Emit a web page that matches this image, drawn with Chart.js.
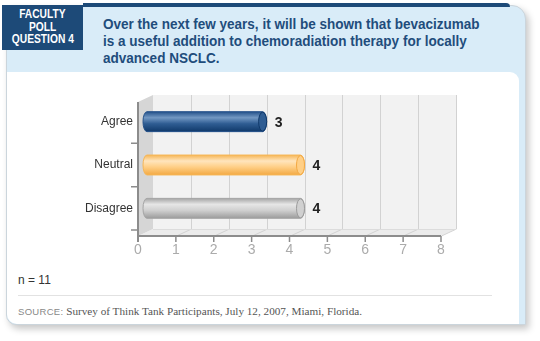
<!DOCTYPE html>
<html>
<head>
<meta charset="utf-8">
<script src="https://cdn.jsdelivr.net/npm/chart.js@4.4.0/dist/chart.umd.min.js"></script>
<style>
  body { margin: 0; background: #fff; width: 540px; height: 341px; overflow: hidden; position: relative; font-family: "Liberation Sans", Arial, sans-serif; }
  .card { position: absolute; left: 6px; top: 5px; width: 518px; height: 318px; background: #d9ecf8; border: 1px solid #cbd5dc; border-radius: 0 14px 0 10px; box-shadow: 3px 4px 7px rgba(0,0,0,0.22); }
  .panel { position: absolute; left: 0; top: 66px; width: 512px; bottom: 0; background: #fff; border-radius: 0 9px 0 10px; }
  .stripe { position: absolute; left: 83px; top: 3px; width: 427px; height: 4px; background: #1d4a78; border-radius: 0 5px 0 0; }
  .tag { position: absolute; left: 2px; top: 5px; width: 81px; height: 45px; background: #1d4a78; }
  .tag div { position: absolute; left: 0; width: 81px; text-align: center; color: #fff; font: bold 12.5px/12px "Liberation Sans", Arial, sans-serif; white-space: nowrap; }
  .tag span { display: inline-block; }
  .title div { position: absolute; left: 103px; color: #1f4d7c; font: bold 15.5px/17px "Liberation Sans", Arial, sans-serif; white-space: nowrap; transform-origin: 0 50%; }
  .n { position: absolute; left: 18px; top: 273px; font-size: 12px; color: #333; }
  .rule { position: absolute; left: 18px; top: 295px; width: 474px; height: 1px; background: #e2e2e2; }
  .source { position: absolute; left: 18px; top: 305px; font: 11.2px "Liberation Serif", serif; color: #555; white-space: nowrap; }
  .source b { font: 9.5px "Liberation Sans", sans-serif; color: #888; letter-spacing: 0.3px; font-weight: normal; }
  canvas { position: absolute; left: 0; top: 0; }
</style>
</head>
<body>
<div class="card"><div class="panel"></div></div>
<div class="stripe"></div>
<div class="tag">
  <div style="top:3px"><span>FACULTY</span></div>
  <div style="top:16px"><span>POLL</span></div>
  <div style="top:28px"><span>QUESTION 4</span></div>
</div>
<div class="title">
  <div style="top:15px">Over the next few years, it will be shown that bevacizumab</div>
  <div style="top:32px">is a useful addition to chemoradiation therapy for locally</div>
  <div style="top:49px">advanced NSCLC.</div>
</div>
<div class="n">n = 11</div>
<div class="rule"></div>
<div class="source"><b>SOURCE:</b> Survey of Think Tank Participants, July 12, 2007, Miami, Florida.</div>
<canvas id="poll" width="540" height="341"></canvas>

<script>
const categories = ['Agree', 'Neutral', 'Disagree'];
const responses = [3, 4, 4];
const xMin = 0;
const xMax = 8;

// cylinder shading per bar: edge, highlight, body, dark
const barShades = [
  ['#24518a', '#7398c3', '#2f5d93', '#10396a'],
  ['#f6b656', '#ffe5bd', '#ffcf86', '#f3a943'],
  ['#a5a5a5', '#e6e6e6', '#d0d0d0', '#9c9c9c']
];

// depth of the 3d box
const dx = 15;
const dy = -7;

// squeeze the header lines to the column width
const titleLines = document.querySelectorAll('.title div');
const ts = 377 / titleLines[0].scrollWidth;
titleLines.forEach(el => { el.style.transform = 'scaleX(' + ts + ')'; });
const q = document.querySelectorAll('.tag span');
const qs = 62 / q[2].getBoundingClientRect().width;
q.forEach(el => { el.style.transform = 'scaleX(' + qs + ')'; });

const box3d = {
  id: 'box3d',
  beforeDatasetsDraw(chart) {
    const { ctx, chartArea: { top, bottom } } = chart;
    const xs = chart.scales.x;
    const x0 = xs.getPixelForValue(xMin);
    const x8 = xs.getPixelForValue(xMax);
    const backTop = top - 5;
    const backBottom = bottom - 1;
    const frontBottom = backBottom - dy;
    const frontTop = backTop - dy;

    ctx.save();
    // back wall
    ctx.fillStyle = '#f2f2f2';
    ctx.fillRect(x0, backTop, x8 - x0, backBottom - backTop);

    // floor
    ctx.fillStyle = '#ebebeb';
    ctx.beginPath();
    ctx.moveTo(x0 - dx, frontBottom);
    ctx.lineTo(x8 - dx, frontBottom);
    ctx.lineTo(x8, backBottom);
    ctx.lineTo(x0, backBottom);
    ctx.closePath();
    ctx.fill();

    // left wall
    ctx.fillStyle = '#d6d6d6';
    ctx.beginPath();
    ctx.moveTo(x0 - dx, frontTop);
    ctx.lineTo(x0, backTop);
    ctx.lineTo(x0, backBottom);
    ctx.lineTo(x0 - dx, frontBottom);
    ctx.closePath();
    ctx.fill();

    // grid lines on wall and floor
    ctx.strokeStyle = '#d2d2d2';
    ctx.lineWidth = 1;
    for (let v = xMin + 1; v <= xMax; v++) {
      const gx = Math.round(xs.getPixelForValue(v)) + 0.5;
      ctx.beginPath();
      ctx.moveTo(gx, backTop);
      ctx.lineTo(gx, backBottom);
      ctx.lineTo(gx - dx, frontBottom);
      ctx.stroke();
    }
    ctx.strokeStyle = '#dcdcdc';
    ctx.beginPath();
    ctx.moveTo(x0, backBottom + 0.5);
    ctx.lineTo(x8, backBottom + 0.5);
    ctx.stroke();

    // front axes
    ctx.strokeStyle = '#8c8c8c';
    ctx.lineWidth = 2;
    ctx.beginPath();
    ctx.moveTo(x0 - dx, frontTop);
    ctx.lineTo(x0 - dx, frontBottom + 6);
    ctx.moveTo(x0 - dx - 1, frontBottom);
    ctx.lineTo(x8 - dx, frontBottom);
    ctx.stroke();

    ctx.lineWidth = 1.5;
    ctx.beginPath();
    for (let v = xMin + 1; v <= xMax; v++) {
      const tx = xs.getPixelForValue(v) - dx;
      ctx.moveTo(tx, frontBottom);
      ctx.lineTo(tx, frontBottom + 6);
    }
    const ys = chart.scales.y;
    const band = (ys.getPixelForValue(1) - ys.getPixelForValue(0));
    for (let i = 0; i < categories.length; i++) {
      const ty = ys.getPixelForValue(i) + band / 2;
      ctx.moveTo(x0 - dx, ty);
      ctx.lineTo(x0 - dx - 7, ty);
    }
    ctx.stroke();
    ctx.restore();
  }
};

const cylinders = {
  id: 'cylinders',
  afterDatasetsDraw(chart) {
    const { ctx } = chart;
    const meta = chart.getDatasetMeta(0);
    meta.data.forEach((bar, i) => {
      const [edge, hi, body, dark] = barShades[i];
      const x1 = bar.x;
      const xStart = bar.base - 10;
      const h = bar.height;
      const top = bar.y - h / 2;
      const bottom = bar.y + h / 2;
      const rx = 4;
      const ry = h / 2;

      const grad = ctx.createLinearGradient(0, top, 0, bottom);
      grad.addColorStop(0, edge);
      grad.addColorStop(0.3, hi);
      grad.addColorStop(0.6, body);
      grad.addColorStop(1, dark);

      ctx.save();
      ctx.beginPath();
      ctx.moveTo(xStart + rx, top);
      ctx.lineTo(x1 - rx, top);
      ctx.ellipse(x1 - rx, bar.y, rx, ry, 0, -Math.PI / 2, Math.PI / 2);
      ctx.lineTo(xStart + rx, bottom);
      ctx.ellipse(xStart + rx, bar.y, rx, ry, 0, Math.PI / 2, Math.PI * 1.5);
      ctx.closePath();
      ctx.fillStyle = grad;
      ctx.fill();
      ctx.strokeStyle = edge;
      ctx.lineWidth = 1;
      ctx.stroke();

      // end cap
      ctx.beginPath();
      ctx.ellipse(x1 - rx, bar.y, rx, ry - 0.5, 0, 0, Math.PI * 2);
      ctx.fillStyle = body;
      ctx.fill();
      ctx.strokeStyle = dark;
      ctx.stroke();

      // value label
      ctx.fillStyle = '#222';
      ctx.font = 'bold 14px "Liberation Sans", Arial, sans-serif';
      ctx.textAlign = 'left';
      ctx.textBaseline = 'middle';
      ctx.fillText(String(responses[i]), x1 + 8, bar.y + 1);
      ctx.restore();
    });
  }
};

const config = {
  type: 'bar',
  data: {
    labels: categories,
    datasets: [{
      data: responses,
      backgroundColor: 'rgba(0,0,0,0)',
      borderWidth: 0,
      categoryPercentage: 1,
      barPercentage: 0.46
    }]
  },
  options: {
    indexAxis: 'y',
    responsive: false,
    animation: false,
    layout: { padding: { left: 0, right: 84, top: 100, bottom: 81 } },
    plugins: { legend: { display: false }, tooltip: { enabled: false } },
    scales: {
      x: {
        min: xMin,
        max: xMax,
        grid: { display: false, drawTicks: false },
        border: { display: false },
        afterFit: (scale) => { scale.height = 30; },
        ticks: {
          stepSize: 1,
          padding: 12,
          labelOffset: -dx,
          maxRotation: 0,
          color: '#ababab',
          font: { family: '"Liberation Sans", Arial, sans-serif', size: 14 }
        }
      },
      y: {
        grid: { display: false, drawTicks: false },
        border: { display: false },
        afterFit: (scale) => { scale.width = 153; },
        ticks: {
          padding: 20,
          color: '#333',
          font: { family: '"Liberation Sans", Arial, sans-serif', size: 12 }
        }
      }
    }
  },
  plugins: [box3d, cylinders]
};

new Chart(document.getElementById('poll'), config);
</script>
</body>
</html>
